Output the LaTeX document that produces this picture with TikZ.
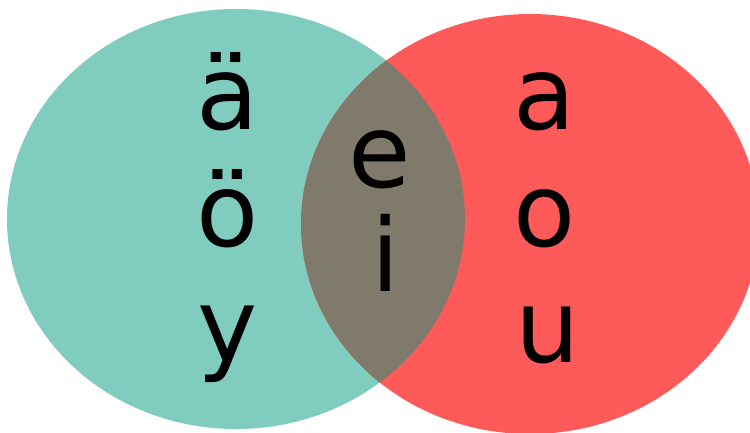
\documentclass[tikz,border=0pt]{standalone}
\usepackage{fontspec}
\setmainfont{DejaVu Sans}
\definecolor{frontcol}{RGB}{128,205,192}
\definecolor{backcol}{RGB}{255,90,90}
\definecolor{bothcol}{RGB}{128,122,108}

\begin{document}
\begin{tikzpicture}[
  x=1bp, y=-1bp,
  vowel/.style={anchor=base,inner sep=0pt,font=\fontsize{102}{102}\selectfont}]
\useasboundingbox (0,0) rectangle (750,433);
% the two sets
\fill[frontcol] (236,219) ellipse [x radius=229, y radius=210];
\fill[backcol] (530,224) ellipse [x radius=229, y radius=210];
\begin{scope}
  \clip (236,219) ellipse [x radius=229, y radius=210];
  \fill[bothcol] (530,224) ellipse [x radius=229, y radius=210];
\end{scope}
% front vowels
\node[vowel] (ae) at (228,130) {ä};
\node[vowel] (oe) at (228,247) {ö};
\node[vowel] (y) at (228,362) {y};
% neutral vowels
\node[vowel] (e) at (380,188) {e};
\node[vowel] (i) at (386,292) {i};
% back vowels
\node[vowel] (a) at (545,130) {a};
\node[vowel] (o) at (545,247) {o};
\node[vowel] (u) at (548,363) {u};
\end{tikzpicture}
\end{document}
